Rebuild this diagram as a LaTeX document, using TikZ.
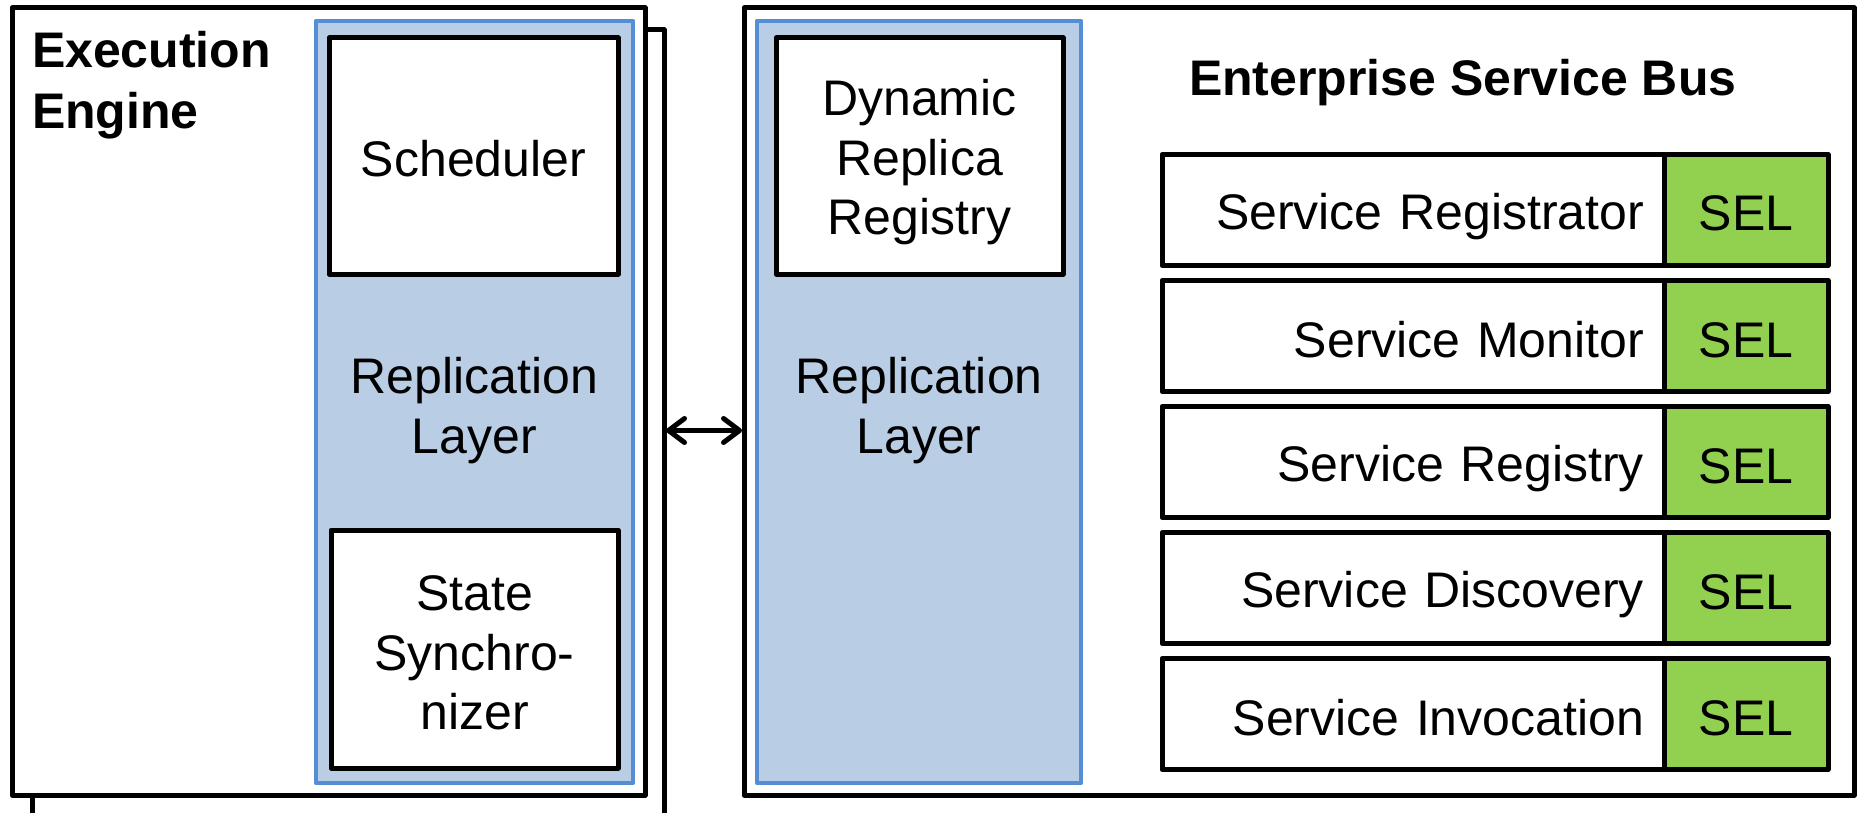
\documentclass[tikz,border=0pt]{standalone}
\usepackage{fontspec}
\setmainfont{Liberation Sans}
\usetikzlibrary{arrows.meta}
\definecolor{layerfill}{HTML}{B9CDE5}
\definecolor{layerline}{HTML}{558ED5}
\definecolor{selgreen}{HTML}{92D050}
\newcommand{\mystrut}{\rule[-7pt]{0pt}{56pt}}
\begin{document}
\begin{tikzpicture}[x=1pt,y=-1pt,
  every node/.style={inner sep=0pt,outer sep=0pt,font=\fontsize{50pt}{59.5pt}\selectfont},
  frame/.style={draw=black,line width=5pt,fill=white,line join=round},
  layer/.style={draw=layerline,line width=4.5pt,fill=layerfill,line join=round},
  comp/.style={frame,align=center},
  svc/.style={comp,minimum width=502pt,minimum height=111pt,text width=462pt,align=right},
  selbox/.style={comp,fill=selgreen,minimum width=164pt,minimum height=111pt},
  plain/.style={align=center},
  title/.style={align=left,font=\bfseries\fontsize{50pt}{60.5pt}\selectfont},
  link/.style={line width=5pt,{Straight Barb[length=16pt,width=24pt,round]}-{Straight Barb[length=16pt,width=24pt,round]}}
]
\useasboundingbox (0,0) rectangle (1861,813);
\clip (0,0) rectangle (1861,813);

% Execution engine (stacked)
\node[frame,minimum width=632pt,minimum height=820pt] (eeback) at (348,440) {};
\node[frame,minimum width=633pt,minimum height=787pt] (ee) at (328.5,401.5) {};
\node[title,anchor=north west] (eetitle) at (32,19) {\mystrut Execution\\Engine\mystrut};

\node[layer,minimum width=317pt,minimum height=762pt] (rl1) at (474.5,402) {};
\node[comp,minimum width=289pt,minimum height=236pt] (sched) at (473.5,156) {\mystrut Scheduler};
\node[comp,minimum width=287pt,minimum height=238pt] (sync) at (474.5,649) {\mystrut State\\Synchro-\\nizer\mystrut};
\node[plain] (rl1text) at (474.5,404) {\mystrut Replication\\Layer\mystrut};

% Enterprise service bus
\node[frame,minimum width=1110pt,minimum height=787pt] (esb) at (1299,401.5) {};
\node[title,anchor=base west] (esbtitle) at (1189,96) {Enterprise Service Bus};

\node[layer,minimum width=324pt,minimum height=762pt] (rl2) at (919,402) {};
\node[comp,minimum width=287pt,minimum height=236pt] (drr) at (919.5,156) {\mystrut Dynamic\\Replica\\Registry\mystrut};
\node[plain] (rl2text) at (919,404) {\mystrut Replication\\Layer\mystrut};

\foreach \i/\name in {0/Service Registrator,1/Service Monitor,2/Service Registry,3/Service Discovery,4/Service Invocation}{
  \node[svc] (svc\i) at (1413,210+126*\i) {\mystrut\name};
  \node[selbox] (sel\i) at (1746,210+126*\i) {\mystrut SEL};
}

% connector
\coordinate (arrowrow) at (0,430.5);
\draw[link] ([xshift=2pt]eeback.east |- arrowrow) -- ([xshift=-2pt]esb.west |- arrowrow);
\end{tikzpicture}
\end{document}
